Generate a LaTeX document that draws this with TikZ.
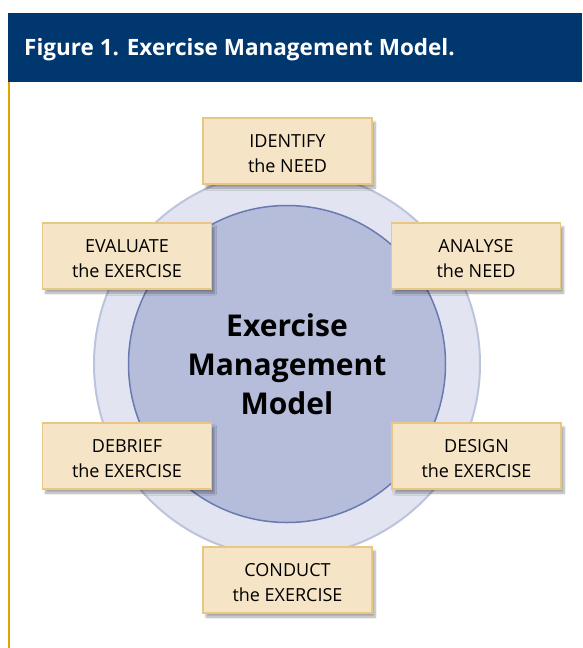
\documentclass[tikz,border=0pt]{standalone}
\usepackage{fontspec}
\setmainfont{Open Sans}
\usetikzlibrary{shadows.blur}
\definecolor{navy}{HTML}{00376F}
\definecolor{gold}{HTML}{E3A400}
\definecolor{ringfill}{HTML}{E2E5F1}
\definecolor{ringline}{HTML}{BCC3DD}
\definecolor{corefill}{HTML}{B5BDDA}
\definecolor{coreline}{HTML}{6A7AB0}
\definecolor{boxfill}{HTML}{F5E4C5}
\definecolor{boxline}{HTML}{E8C683}
\begin{document}
\begin{tikzpicture}[x=1pt,y=-1pt,
  stagebox/.style={draw=boxline, line width=1.3pt, fill=boxfill,
    minimum width=169pt, minimum height=66pt, inner sep=0pt,
    blur shadow={shadow xshift=3pt, shadow yshift=-4pt,
      shadow blur steps=8, shadow opacity=35}},
  stagetext/.style={inner sep=0pt, yshift=-3pt, align=center,
    font=\fontsize{18}{25}\selectfont},
  disc/.style={circle, inner sep=0pt}]
\useasboundingbox (0,0) rectangle (582,648);

% heading band and margin rule
\fill[navy] (8,13) rectangle (582,82);
\node[anchor=base west, inner sep=0pt, text=white,
  font=\bfseries\fontsize{22.5}{26}\selectfont] (title) at (24,55)
  {Figure 1. Exercise Management Model.};
\draw[gold, line width=1.5pt] (9,82) -- (9,648);

% concentric discs
\node[disc, minimum size=386pt, fill=ringfill, draw=ringline, line width=2pt]
  (ring) at (287,364) {};
\node[disc, minimum size=317pt, fill=corefill, draw=coreline, line width=1.5pt,
  align=center, font=\bfseries\fontsize{30}{39}\selectfont]
  (core) at (287,364) {Exercise\\Management\\Model};

% stages of the cycle
\node[stagebox, label={[stagetext]center:{IDENTIFY\\the NEED}}]
  (identify) at (287.5,151) {};
\node[stagebox, label={[stagetext]center:{ANALYSE\\the NEED}}]
  (analyse) at (476,256) {};
\node[stagebox, label={[stagetext]center:{DESIGN\\the EXERCISE}}]
  (design) at (476.5,456) {};
\node[stagebox, label={[stagetext]center:{CONDUCT\\the EXERCISE}}]
  (conduct) at (287.5,580) {};
\node[stagebox, label={[stagetext]center:{DEBRIEF\\the EXERCISE}}]
  (debrief) at (127,456) {};
\node[stagebox, label={[stagetext]center:{EVALUATE\\the EXERCISE}}]
  (evaluate) at (127,256) {};
\end{tikzpicture}
\end{document}
